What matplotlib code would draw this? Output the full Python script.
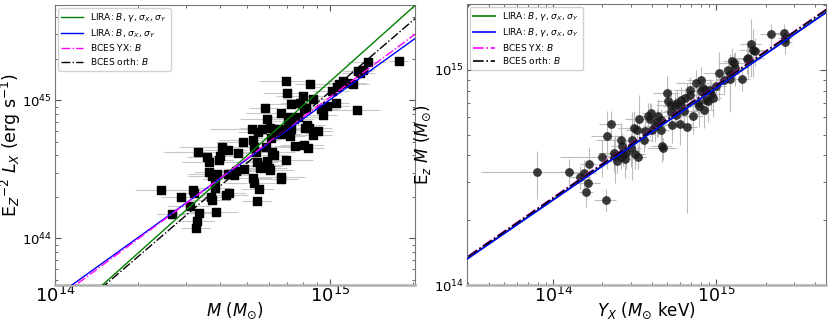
import numpy as np
import matplotlib
matplotlib.use("Agg")
import matplotlib.pyplot as plt

# ---- left panel: M (1e14 Msun) vs Ez^-2 Lx (1e44 erg/s) ----
m_lx = [2.44, 2.87, 2.67, 3.11, 3.19, 3.21, 3.33, 3.28, 3.27, 3.31,
        3.56, 3.62, 3.64, 3.72, 3.83, 3.88, 3.83, 3.70, 3.73, 3.86,
        4.04, 4.25, 3.98, 3.95, 4.20, 4.28, 4.26, 4.47, 4.57, 4.64,
        4.81, 4.88, 5.22, 5.26, 5.29, 5.37, 5.26, 5.31, 5.50, 5.44,
        5.46, 5.66, 5.79, 5.89, 5.85, 5.89, 5.90, 6.02, 6.08, 6.25,
        5.66, 5.55, 6.05, 6.10, 6.25, 6.40, 6.58, 6.62, 6.65, 6.62,
        6.90, 6.98, 6.92, 6.88, 7.16, 7.21, 7.05, 7.41, 7.13, 7.48,
        7.67, 7.98, 8.02, 8.11, 8.07, 8.34, 8.27, 8.39, 8.48, 8.69,
        8.16, 8.65, 9.04, 9.30, 9.45, 9.78, 10.19, 10.52, 10.64, 10.81,
        11.17, 11.62, 12.16, 12.50, 12.67, 12.85, 13.21, 13.74, 17.78, 7.78,
        7.19, 6.82, 6.14, 5.41]
lx = [2.26, 2.01, 1.51, 1.73, 2.25, 2.14, 1.54, 1.34, 1.19, 4.20,
      3.88, 3.57, 3.03, 2.81, 2.69, 2.94, 2.33, 2.00, 1.91, 1.56,
      4.61, 4.39, 3.95, 3.67, 2.05, 2.13, 2.91, 2.89, 3.06, 4.18,
      4.99, 3.18, 6.17, 5.13, 4.56, 4.22, 2.74, 2.50, 2.29, 1.88,
      5.90, 6.24, 8.75, 7.37, 4.59, 3.63, 3.42, 3.24, 3.11, 3.99,
      3.32, 3.24, 6.31, 5.33, 6.24, 5.73, 6.24, 8.09, 2.78, 2.70,
      13.8, 11.3, 3.72, 5.73, 7.57, 9.35, 7.08, 7.37, 5.48, 4.67,
      7.57, 10.7, 8.85, 6.31, 4.77, 4.52, 6.67, 6.34, 13.1, 10.3,
      8.75, 5.57, 5.96, 8.70, 7.79, 9.05, 11.7, 9.62, 12.4, 13.1,
      13.8, 13.4, 13.2, 8.55, 16.2, 15.8, 16.6, 19.0, 19.4, 9.57,
      6.24, 6.07, 4.22, 3.60]
# fractional error on M
m_lx_err = [0.20, 0.15, 0.12, 0.18, 0.22, 0.10, 0.14, 0.16, 0.12, 0.25,
            0.15, 0.20, 0.12, 0.18, 0.10, 0.22, 0.14, 0.12, 0.16, 0.20,
            0.30, 0.18, 0.14, 0.12, 0.20, 0.16, 0.12, 0.18, 0.22, 0.15,
            0.20, 0.14, 0.30, 0.25, 0.18, 0.12, 0.16, 0.22, 0.14, 0.12,
            0.15, 0.18, 0.12, 0.20, 0.25, 0.18, 0.14, 0.16, 0.22, 0.12,
            0.18, 0.14, 0.22, 0.15, 0.20, 0.18, 0.14, 0.25, 0.22, 0.16,
            0.20, 0.18, 0.25, 0.14, 0.16, 0.22, 0.12, 0.18, 0.14, 0.16,
            0.18, 0.20, 0.15, 0.25, 0.18, 0.14, 0.16, 0.20, 0.12, 0.22,
            0.15, 0.18, 0.14, 0.16, 0.12, 0.20, 0.15, 0.12, 0.18, 0.14,
            0.12, 0.16, 0.14, 0.22, 0.12, 0.14, 0.10, 0.16, 0.08, 0.15,
            0.14, 0.18, 0.22, 0.20]

# ---- right panel: Yx (1e14 Msun keV) vs Ez M (1e14 Msun) ----
yx = [0.794, 1.24, 1.46, 1.53, 1.65, 1.64, 1.59, 2.09, 1.99, 2.13,
      2.25, 2.34, 2.44, 2.40, 2.59, 2.64, 2.69, 2.75, 3.04, 3.17,
      3.31, 3.11, 3.27, 3.37, 3.60, 3.81, 3.92, 4.03, 4.29, 4.35,
      4.60, 4.64, 4.71, 4.98, 5.05, 5.25, 5.35, 5.55, 5.63, 5.96,
      6.07, 6.33, 6.45, 6.64, 6.86, 6.92, 7.22, 7.54, 7.72, 7.87,
      8.09, 8.28, 8.36, 8.64, 8.93, 9.10, 9.31, 9.55, 9.91, 10.38,
      11.09, 11.80, 12.19, 12.48, 12.83, 12.95, 14.36, 15.35, 16.40, 16.87,
      17.35, 21.7, 26.0, 26.5, 26.5, 5.69, 6.10, 5.30, 3.63, 3.99,
      2.78, 3.01, 2.59, 8.09, 8.48, 15.63, 12.08, 4.60, 4.19]
m_yx = [3.34, 3.34, 3.19, 3.31, 3.65, 2.97, 2.71, 2.48, 3.95, 4.93,
        5.59, 4.09, 3.78, 3.98, 4.72, 4.43, 4.07, 3.84, 4.72, 4.07,
        3.95, 5.36, 5.26, 5.90, 4.72, 6.07, 5.92, 5.26, 5.73, 6.11,
        5.26, 4.40, 4.32, 7.79, 7.12, 6.35, 5.55, 6.80, 6.14, 5.59,
        7.20, 6.40, 7.38, 5.41, 8.07, 7.60, 6.11, 8.67, 7.00, 6.75,
        8.98, 8.22, 6.52, 7.25, 7.12, 8.07, 7.71, 7.38, 8.43, 9.64,
        8.98, 10.0, 9.08, 11.0, 10.7, 10.2, 9.05, 11.2, 13.2, 12.4,
        12.2, 14.6, 14.8, 13.5, 14.0, 7.00, 6.75, 6.88, 5.17, 6.28,
        4.09, 4.32, 3.95, 7.93, 8.07, 11.3, 9.58, 5.85, 5.45]
# fractional errors
yx_err = [0.55, 0.30, 0.15, 0.20, 0.12, 0.18, 0.10, 0.15, 0.45, 0.20,
          0.15, 0.20, 0.12, 0.18, 0.30, 0.15, 0.20, 0.12, 0.18, 0.15,
          0.12, 0.20, 0.15, 0.18, 0.12, 0.15, 0.20, 0.12, 0.15, 0.18,
          0.12, 0.15, 0.20, 0.18, 0.15, 0.12, 0.20, 0.15, 0.12, 0.18,
          0.15, 0.25, 0.12, 0.15, 0.20, 0.12, 0.15, 0.25, 0.12, 0.15,
          0.18, 0.12, 0.15, 0.20, 0.12, 0.15, 0.18, 0.12, 0.15, 0.20,
          0.12, 0.15, 0.18, 0.12, 0.20, 0.15, 0.12, 0.20, 0.15, 0.18,
          0.12, 0.15, 0.12, 0.10, 0.10, 0.12, 0.15, 0.20, 0.15, 0.12,
          0.18, 0.15, 0.12, 0.15, 0.12, 0.25, 0.15, 0.12, 0.15]
m_yx_err = [0.25, 0.15, 0.12, 0.15, 0.20, 0.12, 0.15, 0.12, 0.20, 0.30,
            0.15, 0.18, 0.12, 0.25, 0.20, 0.15, 0.12, 0.18, 0.35, 0.15,
            0.12, 0.20, 0.15, 0.30, 0.12, 0.15, 0.18, 0.12, 0.15, 0.20,
            0.12, 0.15, 0.12, 0.20, 0.15, 0.12, 0.18, 0.15, 0.12, 0.20,
            0.15, 0.18, 0.12, 0.60, 0.15, 0.12, 0.18, 0.15, 0.12, 0.20,
            0.15, 0.12, 0.18, 0.15, 0.20, 0.12, 0.15, 0.18, 0.12, 0.25,
            0.15, 0.12, 0.30, 0.15, 0.12, 0.18, 0.12, 0.15, 0.30, 0.25,
            0.15, 0.12, 0.10, 0.12, 0.10, 0.15, 0.12, 0.18, 0.15, 0.12,
            0.15, 0.18, 0.12, 0.15, 0.12, 0.20, 0.15, 0.12, 0.15]

# ---- fits: log10(Y) = norm + slope * log10(X / pivot) ----
fit_colors = ["green", "blue", "magenta", "black"]
fit_styles = ["-", "-", "-.", "-."]
left_labels = [r"LIRA: $B$, $\gamma$, $\sigma_X$, $\sigma_Y$",
               r"LIRA: $B$, $\sigma_X$, $\sigma_Y$",
               r"BCES YX: $B$", r"BCES orth: $B$"]
right_labels = [r"LIRA: $B$, $\gamma$, $\sigma_X$, $\sigma_Y$",
                r"LIRA: $B$, $\gamma$, $\sigma_X$, $\sigma_Y$",
                r"BCES YX: $B$", r"BCES orth: $B$"]
left_pivot = 5e14
left_norm = [44.600, 44.574, 44.580, 44.547]
left_slope = [1.78, 1.43, 1.47, 1.71]
right_pivot = 3e14
right_norm = [14.646, 14.644, 14.656, 14.654]
right_slope = [0.520, 0.520, 0.522, 0.522]


def style_axes(ax):
    ax.tick_params(which="both", direction="in", top=True, right=True,
                   color="#555555", labelcolor="black")
    ax.tick_params(which="major", length=4)
    ax.tick_params(which="minor", length=2)
    for s in ["top", "left", "right"]:
        ax.spines[s].set_color("#777777")
        ax.spines[s].set_linewidth(0.8)
    ax.spines["bottom"].set_color("#b0b0b0")
    ax.spines["bottom"].set_linewidth(1.8)


fig = plt.figure(figsize=(8.3, 3.26), dpi=100)
ax1 = fig.add_axes([55 / 830, 41 / 326, 360 / 830, 280 / 326])
ax2 = fig.add_axes([467 / 830, 41 / 326, 359 / 830, 281 / 326])

# left
M = np.array(m_lx) * 1e14
L = np.array(lx) * 1e44
xe = np.array(m_lx_err) * M
ax1.errorbar(M, L, xerr=xe, fmt="none", ecolor="#c8c8c8", elinewidth=0.8, zorder=1)
ax1.scatter(M, L, marker="s", s=30, color="black", zorder=2)
xx = np.logspace(13.5, 15.8, 50)
for c, ls, lab, a, b in zip(fit_colors, fit_styles, left_labels, left_norm, left_slope):
    ax1.plot(xx, 10 ** (a + b * np.log10(xx / left_pivot)), color=c, ls=ls, lw=1, label=lab, zorder=3)
ax1.set_xscale("log")
ax1.set_yscale("log")
ax1.set_xlim(1e14, 2.04e15)
ax1.set_ylim(4.6e43, 4.9e45)
ax1.set_xlabel(r"$M$ ($M_{\odot}$)", fontsize=12)
ax1.set_ylabel(r"E$_Z$$^{-2}$ $L_X$ (erg s$^{-1}$)", fontsize=12.5)
ax1.xaxis.set_label_coords(0.5, -0.055)
ax1.yaxis.set_label_coords(-0.09, 0.5)
ax1.tick_params(axis="x", which="major", labelsize=13, pad=1)
ax1.tick_params(axis="y", which="major", labelsize=9.5, pad=2)
style_axes(ax1)
ax1.legend(loc="upper left", fontsize=6.5, handlelength=2.4, labelspacing=0.3,
           borderaxespad=0.3, framealpha=0.9)

# right
Y = np.array(yx) * 1e14
Mz = np.array(m_yx) * 1e14
ax2.errorbar(Y, Mz, xerr=np.array(yx_err) * Y, yerr=np.array(m_yx_err) * Mz, fmt="none",
             ecolor="#bbbbbb", elinewidth=0.8, zorder=1)
ax2.scatter(Y, Mz, marker="o", s=40, color="#1a1a1a", alpha=0.85, lw=0, zorder=2)
xx = np.logspace(13.3, 15.9, 50)
for c, ls, lab, a, b in zip(fit_colors, fit_styles, right_labels, right_norm, right_slope):
    ax2.plot(xx, 10 ** (a + b * np.log10(xx / right_pivot)), color=c, ls=ls, lw=1.2, label=lab, zorder=3)
ax2.set_xscale("log")
ax2.set_yscale("log")
ax2.set_xlim(2.95e13, 4.7e15)
ax2.set_ylim(1e14, 2.02e15)
ax2.set_xlabel(r"$Y_X$ ($M_{\odot}$ keV)", fontsize=12)
ax2.set_ylabel(r"E$_z$ $M$ ($M_{\odot}$)", fontsize=12)
ax2.xaxis.set_label_coords(0.5, -0.055)
ax2.yaxis.set_label_coords(-0.095, 0.5)
ax2.tick_params(axis="x", which="major", labelsize=12.5, pad=1)
ax2.tick_params(axis="y", which="major", labelsize=9.5, pad=2)
style_axes(ax2)
ax2.legend(loc="upper left", fontsize=6.5, handlelength=2.4, labelspacing=0.3,
           borderaxespad=0.3, framealpha=0.9)

fig.savefig("out.png", dpi=100)
